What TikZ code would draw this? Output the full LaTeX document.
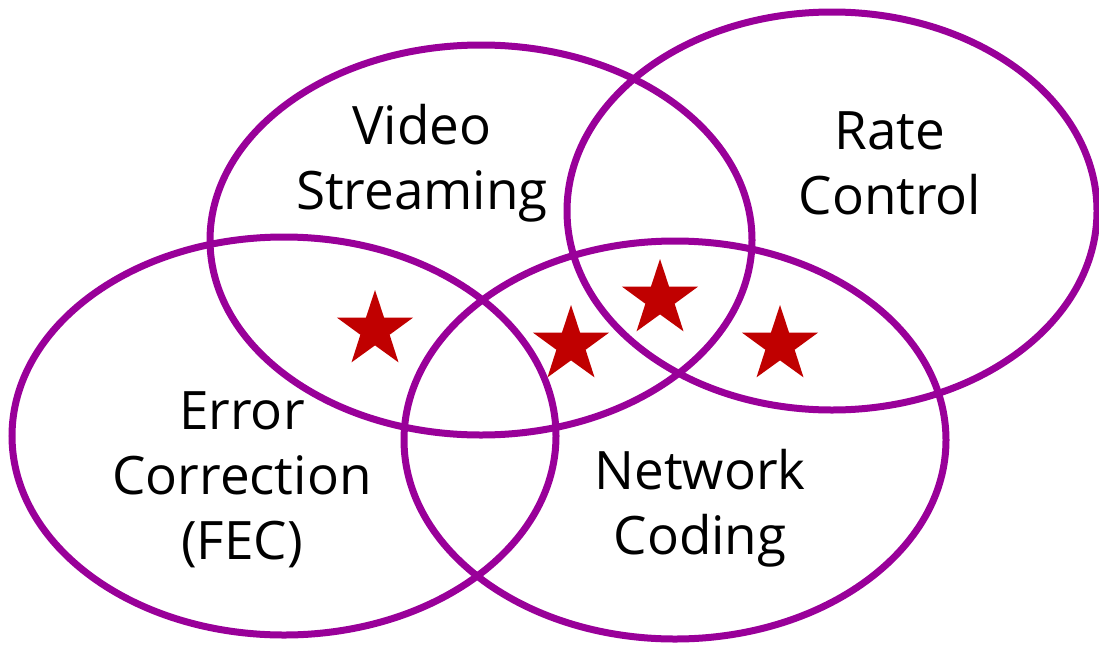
\documentclass[tikz,border=0pt]{standalone}
\usepackage{fontspec}
\setmainfont{Open Sans}
\usetikzlibrary{shapes.geometric}
\definecolor{ringpurple}{HTML}{990099}
\definecolor{starred}{HTML}{C00000}
\tikzset{
  ring/.style={draw=ringpurple, line width=7pt},
  label/.style={align=center, font=\fontsize{53}{65}\selectfont, text=black},
  badge/.style={star, star points=5, star point ratio=2.6, fill=starred,
    draw=none, minimum size=80pt, inner sep=0pt}
}
\begin{document}
\begin{tikzpicture}[x=1pt,y=-1pt]
  \useasboundingbox (0,0) rectangle (1099,645);
  % the four overlapping areas
  \draw[ring] (481,240) ellipse [x radius=271, y radius=195];
  \draw[ring] (832,211) ellipse [x radius=265, y radius=199];
  \draw[ring] (284,436) ellipse [x radius=272, y radius=199];
  \draw[ring] (675,440) ellipse [x radius=271, y radius=199];
  % area names
  \node[label] (video) at (422,163) {Video\\Streaming};
  \node[label] (rate) at (890,163) {Rate\\Control};
  \node[label] (fec) at (242,480) {Error\\Correction\\(FEC)};
  \node[label] (nc) at (700,508) {Network\\Coding};
  % marked overlaps
  \node[badge] (s1) at (375,330) {};
  \node[badge] (s2) at (571,345) {};
  \node[badge] (s3) at (660,299) {};
  \node[badge] (s4) at (780,345) {};
\end{tikzpicture}
\end{document}
